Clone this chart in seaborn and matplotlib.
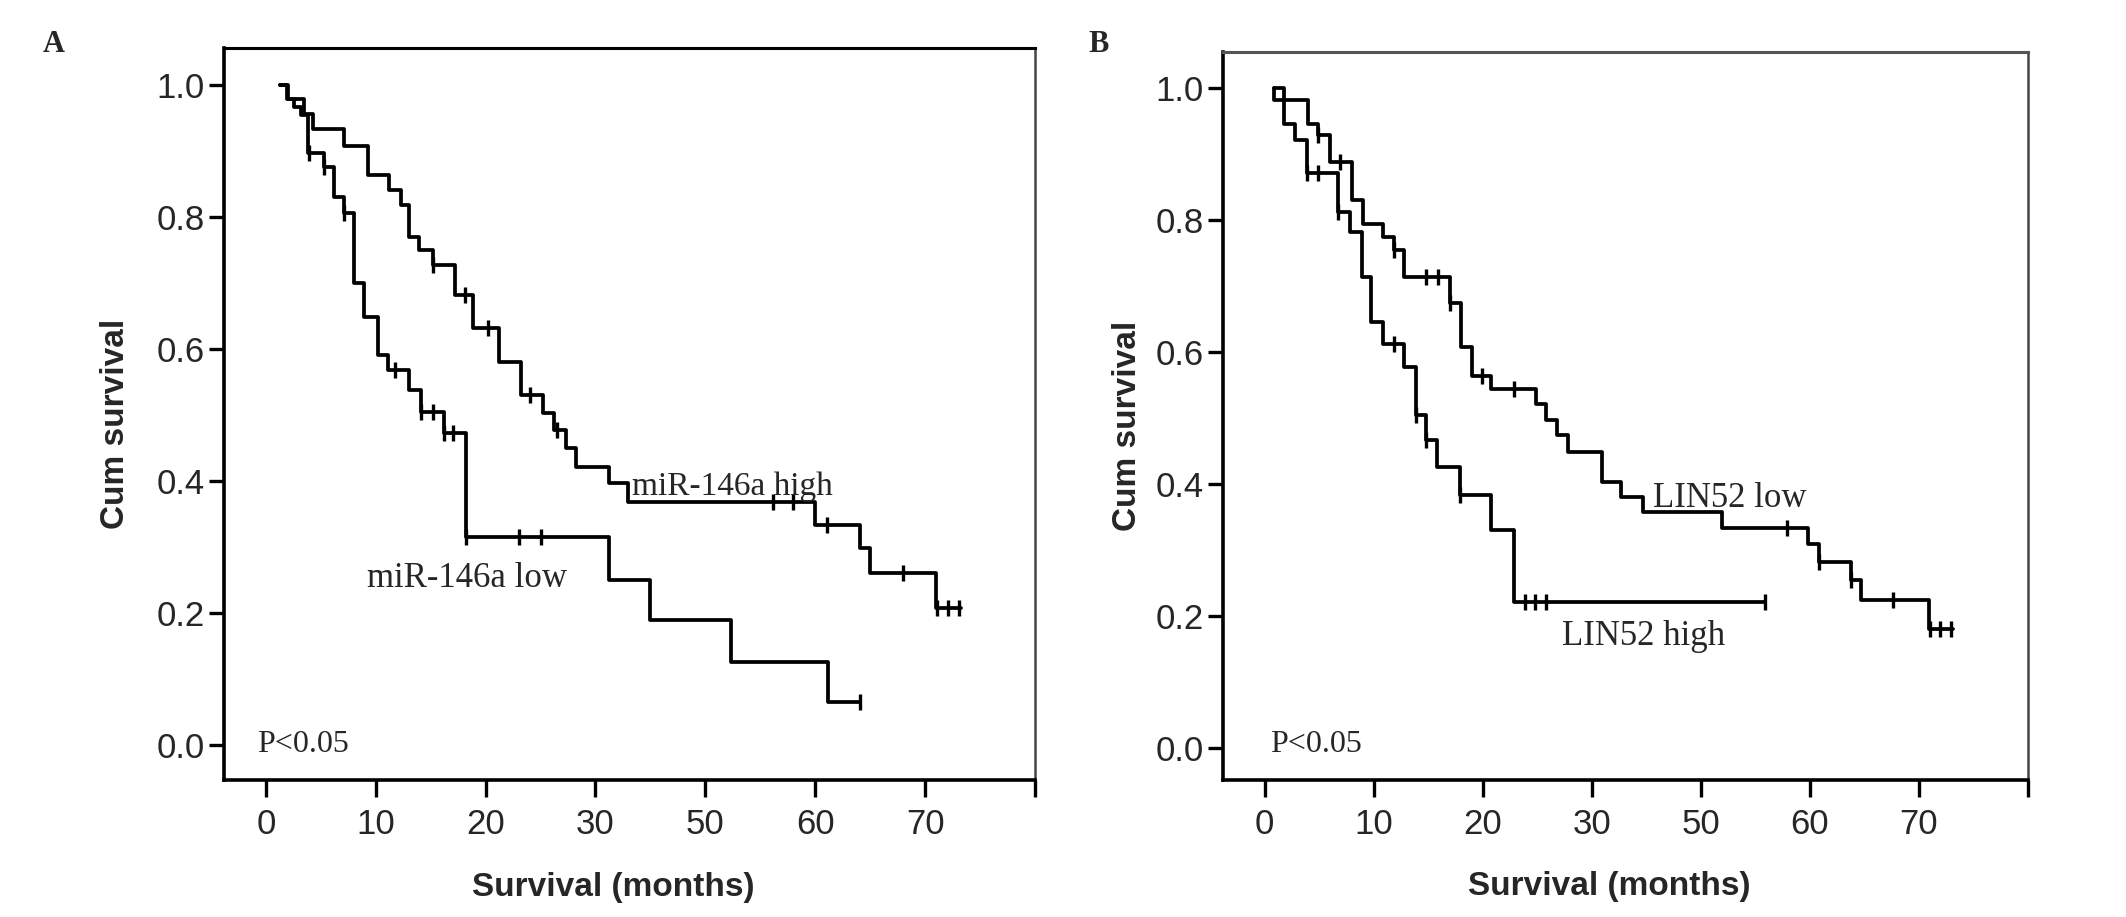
import numpy as np
import matplotlib
matplotlib.use("Agg")
import matplotlib.pyplot as plt
import seaborn as sns

# ---------------- data (x in axis-position units) ----------------
x_ticks = [0, 10, 20, 30, 40, 50, 60, 70]
x_tick_labels = ["0", "10", "20", "30", "50", "60", "70", ""]
y_ticks = [0.0, 0.2, 0.4, 0.6, 0.8, 1.0]
y_tick_labels = ["0.0", "0.2", "0.4", "0.6", "0.8", "1.0"]

# Panel A: miR-146a high
a_high_t = [1.3, 2.0, 3.5, 4.3, 7.1, 9.3, 11.2, 12.3, 13.0, 13.9, 15.2, 17.2, 18.9, 21.2,
            23.2, 25.2, 26.2, 27.3, 28.2, 31.2, 33.0, 50.0, 54.1, 55.0, 61.0, 63.3]
a_high_s = [1.0, 0.978, 0.956, 0.933, 0.908, 0.864, 0.841, 0.818, 0.770, 0.750, 0.727, 0.682,
            0.632, 0.580, 0.530, 0.503, 0.477, 0.450, 0.421, 0.397, 0.368, 0.333, 0.298, 0.260,
            0.207, 0.207]
a_high_cens = [15.2, 18.1, 20.2, 24.0, 26.5, 46.2, 48.0, 51.1, 58.0, 61.1, 62.1, 63.1]

# Panel A: miR-146a low
a_low_t = [1.3, 1.9, 2.6, 3.2, 3.8, 5.3, 6.2, 7.1, 8.0, 8.9, 10.2, 11.1, 13.0, 14.1, 16.2,
           18.2, 31.2, 35.0, 42.3, 51.2, 54.1]
a_low_s = [1.0, 0.978, 0.967, 0.955, 0.897, 0.876, 0.830, 0.806, 0.700, 0.648, 0.591, 0.568,
           0.538, 0.505, 0.473, 0.315, 0.250, 0.190, 0.126, 0.065, 0.065]
a_low_cens = [3.9, 5.3, 7.1, 11.8, 14.1, 15.2, 16.2, 17.0, 18.2, 23.0, 25.0, 54.1]

# Panel B: LIN52 low
b_low_t = [0.9, 0.9, 4.0, 4.9, 6.0, 8.0, 9.0, 10.9, 11.9, 12.8, 17.0, 18.0, 19.0, 20.8, 24.9,
           25.8, 26.8, 27.8, 30.9, 32.7, 34.7, 41.9, 49.8, 50.8, 53.8, 54.7, 60.9, 63.1]
b_low_s = [1.0, 0.982, 0.946, 0.929, 0.888, 0.830, 0.795, 0.775, 0.755, 0.714, 0.674, 0.608,
           0.564, 0.545, 0.522, 0.497, 0.474, 0.449, 0.404, 0.381, 0.358, 0.334, 0.310, 0.282,
           0.255, 0.224, 0.181, 0.181]
b_low_cens = [4.9, 6.9, 11.9, 14.8, 15.9, 17.0, 19.9, 22.9, 47.9, 50.8, 53.8, 57.6, 61.0,
              61.9, 62.9]

# Panel B: LIN52 high
b_high_t = [0.9, 1.8, 2.75, 3.9, 6.7, 7.8, 8.9, 9.8, 10.9, 12.8, 13.9, 14.8, 15.8, 17.9,
            20.8, 22.9, 45.9]
b_high_s = [1.0, 0.946, 0.921, 0.871, 0.813, 0.782, 0.714, 0.646, 0.613, 0.578, 0.505,
            0.467, 0.426, 0.384, 0.330, 0.222, 0.222]
b_high_cens = [3.9, 4.9, 6.7, 11.9, 13.9, 14.8, 17.9, 23.9, 24.8, 25.8, 45.9]

# ---------------- style ----------------
sns.set_theme(style="ticks")
plt.rcParams["font.family"] = ["Liberation Sans", "DejaVu Sans"]
SERIF = ["Liberation Serif", "DejaVu Serif"]

fig = plt.figure(figsize=(21.26, 9.17), dpi=100)
fig.patch.set_facecolor("white")
axA = fig.add_axes([0.1054, 0.1494, 0.3814, 0.7983])
axB = fig.add_axes([0.5753, 0.1494, 0.3786, 0.7940])


def km(ax, t, s, cens):
    sns.lineplot(x=t, y=s, ax=ax, estimator=None, sort=False, drawstyle="steps-post",
                 color="black", linewidth=2.7)
    t_arr = np.asarray(t)
    s_arr = np.asarray(s)
    idx = np.searchsorted(t_arr, cens, side="right") - 1
    ax.plot(cens, s_arr[idx], ls="none", marker="|", ms=12, mew=2.4, color="black")


def style_axes(ax, ylim, top_color, right_color, ylabel_x):
    ax.set_facecolor("white")
    ax.set_xlim(-3.8, 70.0)
    ax.set_ylim(*ylim)
    ax.set_xticks(x_ticks)
    ax.set_xticklabels(x_tick_labels)
    ax.set_yticks(y_ticks)
    ax.set_yticklabels(y_tick_labels)
    ax.tick_params(axis="x", length=12, width=2.4, pad=8, labelsize=25, color="black")
    ax.tick_params(axis="y", length=11, width=2.4, pad=3, labelsize=25, color="black")
    for side in ["left", "bottom"]:
        ax.spines[side].set_linewidth(2.6)
        ax.spines[side].set_color("black")
    ax.spines["top"].set_linewidth(2.2)
    ax.spines["top"].set_color(top_color)
    ax.spines["right"].set_linewidth(1.8)
    ax.spines["right"].set_color(right_color)
    ax.set_xlabel("Survival (months)", fontsize=24, fontweight="bold")
    ax.set_ylabel("Cum survival", fontsize=24, fontweight="bold")
    ax.xaxis.set_label_coords(0.48, -0.125)
    ax.yaxis.set_label_coords(ylabel_x, 0.487)


# Panel A
km(axA, a_high_t, a_high_s, a_high_cens)
km(axA, a_low_t, a_low_s, a_low_cens)
style_axes(axA, (-0.053, 1.056), "black", "#444444", -0.115)
axA.text(33.3, 0.379, "miR-146a high", fontsize=24, family=SERIF, ha="left", va="baseline")
axA.text(9.2, 0.240, "miR-146a low", fontsize=25, family=SERIF, ha="left", va="baseline")
axA.text(-0.8, -0.01, "P<0.05", fontsize=23, family=SERIF, ha="left", va="baseline")

# Panel B
km(axB, b_low_t, b_low_s, b_low_cens)
km(axB, b_high_t, b_high_s, b_high_cens)
style_axes(axB, (-0.048, 1.055), "#555555", "#444444", -0.10)
axB.text(35.6, 0.365, "LIN52 low", fontsize=25, family=SERIF, ha="left", va="baseline")
axB.text(27.3, 0.156, "LIN52 high", fontsize=25, family=SERIF, ha="left", va="baseline")
axB.text(0.5, -0.006, "P<0.05", fontsize=23, family=SERIF, ha="left", va="baseline")

# Panel letters
fig.text(54 / 2126, 1 - 45 / 917, "A", fontsize=22, fontweight="bold", family=SERIF,
         ha="center", va="center")
fig.text(1099 / 2126, 1 - 45 / 917, "B", fontsize=22, fontweight="bold", family=SERIF,
         ha="center", va="center")

fig.savefig("out.png", dpi=100, facecolor="white")
